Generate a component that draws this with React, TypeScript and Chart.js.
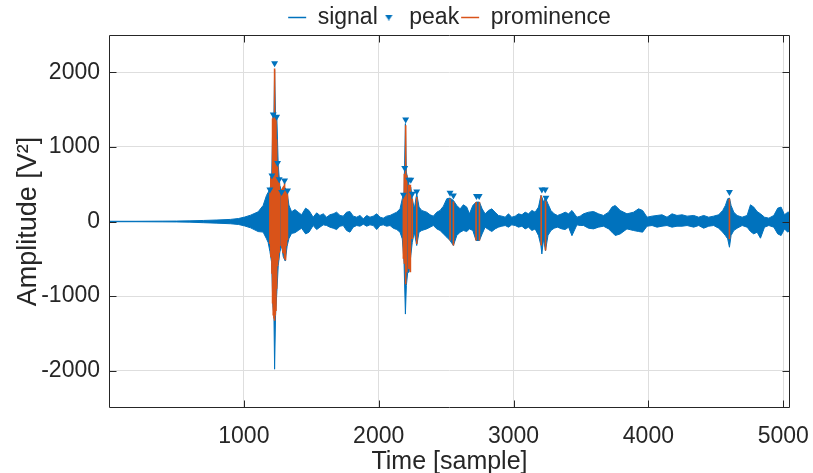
import React, { useEffect, useRef } from "react";
import { Chart, registerables } from "chart.js";

Chart.register(...registerables);

// ---------- data ----------
// signal envelope: sample index, upper and lower extent of the dense waveform
const sigX = [
  0, 200, 400, 500, 600, 700, 800, 900, 960, 1007, 1050, 1106, 1143, 1168, 1180, 1193, 1206, 1215, 1223, 1228,
  1235, 1245, 1255, 1267, 1280, 1292, 1307, 1321, 1334, 1354, 1379, 1403, 1428, 1458, 1483, 1514, 1540, 1564, 1589, 1614,
  1638, 1663, 1688, 1713, 1737, 1762, 1787, 1811, 1837, 1861, 1886, 1911, 1935, 1960, 1985, 2010, 2034, 2059, 2084, 2108,
  2134, 2158, 2175, 2188, 2198, 2205, 2215, 2225, 2238, 2249, 2264, 2282, 2299, 2319, 2356, 2381, 2405, 2431, 2455, 2480,
  2505, 2529, 2554, 2579, 2604, 2628, 2653, 2673, 2698, 2722, 2747, 2767, 2789, 2814, 2839, 2863, 2888, 2913, 2938, 2962,
  2987, 3012, 3037, 3062, 3086, 3111, 3136, 3160, 3185, 3203, 3210, 3222, 3237, 3255, 3277, 3301, 3326, 3358, 3383, 3408,
  3433, 3470, 3494, 3519, 3556, 3593, 3630, 3667, 3705, 3730, 3754, 3791, 3841, 3890, 3927, 3957, 3990, 4027, 4064, 4101,
  4138, 4175, 4212, 4250, 4287, 4336, 4373, 4410, 4447, 4484, 4521, 4551, 4571, 4588, 4601, 4613, 4633, 4658, 4695, 4732,
  4757, 4781, 4806, 4831, 4861, 4893, 4930, 4959, 4984, 5009, 5033, 5050,
];
const sigHi = [
  3, 3, 5, 6, 9, 14, 20, 28, 40, 60, 85, 130, 215, 350, 390, 430, 560, 1380, 1440, 2030,
  1420, 1380, 750, 485, 395, 430, 450, 395, 220, 130, 160, 125, 90, 179, 148, 58, 116, 81, 103, 58,
  90, 103, 125, 81, 72, 125, 134, 72, 58, 81, 36, 81, 58, 72, 103, 58, 45, 72, 81, 103,
  125, 170, 305, 394, 1313, 663, 573, 493, 461, 305, 170, 372, 193, 148, 125, 90, 72, 125, 148, 206,
  305, 314, 282, 215, 170, 224, 193, 103, 215, 260, 260, 170, 103, 148, 170, 125, 81, 72, 58, 103,
  58, 72, 103, 90, 125, 103, 148, 125, 193, 350, 327, 260, 314, 237, 148, 103, 81, 103, 125, 103,
  148, 58, 72, 103, 125, 134, 103, 81, 125, 193, 215, 148, 103, 125, 170, 148, 58, 72, 81, 90,
  58, 103, 81, 90, 72, 81, 58, 81, 58, 72, 90, 148, 215, 305, 314, 215, 125, 81, 58, 81,
  224, 193, 134, 103, 58, 45, 81, 179, 193, 90, 125, 125,
];
const sigLo = [
  -3, -3, -5, -6, -9, -16, -22, -30, -40, -60, -85, -135, -142, -232, -280, -400, -550, -1130, -1260, -1980,
  -1260, -940, -590, -410, -320, -470, -530, -330, -230, -160, -150, -121, -90, -166, -143, -54, -108, -76, -45, -54,
  -76, -90, -108, -63, -54, -121, -143, -76, -54, -63, -36, -63, -45, -54, -108, -54, -45, -63, -54, -90,
  -108, -143, -233, -547, -1241, -860, -680, -680, -457, -278, -143, -322, -143, -121, -99, -76, -54, -99, -121, -166,
  -211, -255, -322, -188, -143, -121, -134, -99, -121, -255, -255, -166, -76, -108, -134, -99, -76, -63, -54, -76,
  -45, -54, -76, -63, -99, -76, -121, -99, -188, -322, -435, -233, -390, -188, -121, -90, -76, -99, -108, -76,
  -190, -45, -54, -54, -90, -99, -76, -63, -99, -143, -188, -166, -99, -121, -134, -143, -63, -54, -76, -63,
  -54, -76, -63, -63, -54, -76, -54, -90, -63, -54, -90, -143, -188, -233, -345, -188, -121, -90, -54, -76,
  -134, -166, -143, -224, -76, -54, -76, -166, -188, -99, -143, -120,
];

// prominence lines: sample index, top and bottom of each vertical line
const promX = [
  1193, 1200, 1208, 1213, 1218, 1223, 1228, 1233, 1238, 1243, 1250, 1256, 1262, 1276, 1282, 1289, 1295, 1302, 1309, 1316, 1323,
  2183, 2190, 2200, 2208, 2223, 2235, 2249, 2282, 2529, 2554, 2722, 2747, 3205, 3237, 4601,
];
const promTop = [
  430, 600, 610, 1380, 1420, 1400, 2050, 1380, 1400, 1100, 785, 560, 520, 380, 440, 460, 480, 520, 420, 400, 380,
  305, 641, 1290, 620, 493, 493, 305, 328, 305, 269, 260, 260, 350, 305, 305,
];
const promBottom = [
  -300, -480, -700, -1100, -1260, -1300, -1330, -1260, -1200, -900, -600, -520, -420, -330, -360, -420, -430, -500, -520, -330, -250,
  -500, -568, -840, -680, -636, -680, -233, -300, -255, -322, -255, -255, -322, -390, -233,
];

// peak markers
const peakX = [
  1193, 1208, 1218, 1228, 1243, 1250, 1262, 1280, 1302, 1324,
  2183, 2193, 2200, 2223, 2238, 2249, 2282, 2529, 2554, 2725, 2745, 3210, 3235, 3240, 4601,
];
const peakY = [
  430, 618, 1434, 2120, 1403, 785, 565, 395, 551, 417,
  359, 718, 1367, 560, 560, 372, 403, 386, 350, 341, 341, 430, 430, 318, 395,
];

const xTicks = [1000, 2000, 3000, 4000, 5000];
const yTicks = [-2000, -1000, 0, 1000, 2000];

// ---------- styles ----------
const BLUE = "#0072BD";
const ORANGE = "#D95319";
const AXIS = "#262626";
const GRID = "#dedede";
const FONT = "'Liberation Sans', Arial, Helvetica, sans-serif";

export default function App() {
  const ref = useRef<HTMLCanvasElement>(null);

  useEffect(() => {
    const canvas = ref.current;
    if (!canvas) return;

    // small downward triangle used as the legend icon for "peak"
    const tri = document.createElement("canvas");
    tri.width = 8;
    tri.height = 6;
    const tctx = tri.getContext("2d")!;
    tctx.fillStyle = BLUE;
    tctx.beginPath();
    tctx.moveTo(0, 0);
    tctx.lineTo(8, 0);
    tctx.lineTo(4, 6);
    tctx.closePath();
    tctx.fill();

    const hiData = sigX.map((x, i) => ({ x, y: sigHi[i] }));
    const loData = sigX.map((x, i) => ({ x, y: sigLo[i] }));
    const promData: { x: number; y: number | null }[] = [];
    promX.forEach((x, i) => {
      promData.push({ x, y: promTop[i] });
      promData.push({ x, y: promBottom[i] });
      promData.push({ x, y: null });
    });
    const peakData = peakX.map((x, i) => ({ x, y: peakY[i] }));

    const boxPlugin = {
      id: "matlabBox",
      afterLayout(chart: any) {
        // nudge legend row down a little (it sits above the plot box)
        if (chart.legend) {
          chart.legend.top += 4;
          chart.legend.bottom += 4;
        }
      },
      afterDatasetsDraw(chart: any) {
        const { ctx, chartArea: a, scales } = chart;
        const L = Math.round(a.left) + 0.5;
        const R = Math.round(a.right) - 0.5;
        const T = Math.round(a.top) + 0.5;
        const B = Math.round(a.bottom) - 0.5;
        ctx.save();
        ctx.strokeStyle = AXIS;
        ctx.lineWidth = 1;
        ctx.beginPath();
        ctx.rect(L, T, R - L, B - T);
        const tl = 7;
        for (const v of xTicks) {
          const px = Math.round(scales.x.getPixelForValue(v)) + 0.5;
          ctx.moveTo(px, B);
          ctx.lineTo(px, B - tl);
          ctx.moveTo(px, T);
          ctx.lineTo(px, T + tl);
        }
        for (const v of yTicks) {
          const py = Math.round(scales.y.getPixelForValue(v)) + 0.5;
          ctx.moveTo(L, py);
          ctx.lineTo(L + tl, py);
          ctx.moveTo(R, py);
          ctx.lineTo(R - tl, py);
        }
        ctx.stroke();
        ctx.restore();
      },
    };

    const chart = new Chart(canvas, {
      type: "line",
      data: {
        datasets: [
          {
            label: "signal",
            data: hiData,
            borderColor: BLUE,
            backgroundColor: BLUE,
            borderWidth: 1,
            pointRadius: 0,
            pointStyle: "line",
            pointBorderWidth: 1.5,
            tension: 0,
            fill: "+1",
            order: 2,
          },
          {
            label: "",
            data: loData,
            borderColor: BLUE,
            backgroundColor: BLUE,
            borderWidth: 1,
            pointRadius: 0,
            tension: 0,
            fill: false,
            order: 3,
          },
          {
            label: "peak",
            data: peakData,
            showLine: false,
            borderColor: BLUE,
            backgroundColor: BLUE,
            pointStyle: "triangle",
            pointRotation: 180,
            pointRadius: 4,
            pointBorderWidth: 0,
            order: 0,
          },
          {
            label: "prominence",
            data: promData,
            borderColor: ORANGE,
            backgroundColor: ORANGE,
            borderWidth: 1.6,
            pointRadius: 0,
            pointStyle: "line",
            pointBorderWidth: 1.5,
            spanGaps: false,
            tension: 0,
            fill: false,
            order: 1,
          },
        ] as any,
      },
      options: {
        animation: false,
        responsive: false,
        devicePixelRatio: 1,
        events: [],
        layout: { padding: { left: 0, right: 23, top: 0, bottom: 0 } },
        plugins: {
          tooltip: { enabled: false },
          legend: {
            display: true,
            position: "top",
            align: "center",
            fullSize: false,
            labels: {
              usePointStyle: true,
              pointStyleWidth: 18,
              boxHeight: 8,
              padding: 2,
              color: AXIS,
              font: { family: FONT, size: 23 },
              sort: (a: any, b: any) => a.datasetIndex - b.datasetIndex,
              filter: (item: any) => item.text !== "",
              generateLabels: (ch: any) => {
                const items = Chart.defaults.plugins.legend.labels.generateLabels(ch);
                return items.map((it: any) => {
                  if (it.text === "peak") {
                    return { ...it, pointStyle: tri, rotation: 0 };
                  }
                  return it;
                });
              },
            },
          },
        },
        scales: {
          x: {
            type: "linear",
            min: 0,
            max: 5050,
            afterBuildTicks: (s: any) => {
              s.ticks = xTicks.map((v) => ({ value: v }));
            },
            afterFit: (s: any) => {
              s.height = 65;
              s.paddingLeft = 0;
              s.paddingRight = 0;
            },
            grid: { color: GRID, drawTicks: false, lineWidth: 1 },
            border: { display: false },
            ticks: {
              color: AXIS,
              font: { family: FONT, size: 23 },
              padding: 15,
              maxRotation: 0,
              autoSkip: false,
              callback: (v: any) => String(v),
            },
            title: {
              display: true,
              text: "Time [sample]",
              color: AXIS,
              font: { family: FONT, size: 25 },
              padding: { top: 0, bottom: -4 },
            },
          },
          y: {
            type: "linear",
            min: -2500,
            max: 2500,
            afterBuildTicks: (s: any) => {
              s.ticks = yTicks.map((v) => ({ value: v }));
            },
            afterFit: (s: any) => {
              s.width = 109;
            },
            grid: { color: GRID, drawTicks: false, lineWidth: 1 },
            border: { display: false },
            ticks: {
              color: AXIS,
              font: { family: FONT, size: 23 },
              padding: 9,
              autoSkip: false,
              callback: (v: any) => String(v),
            },
            title: {
              display: true,
              text: "Amplitude [V²]",
              color: AXIS,
              font: { family: FONT, size: 27 },
              padding: { top: 12, bottom: 0 },
            },
          },
        },
      } as any,
      plugins: [boxPlugin],
    });

    return () => chart.destroy();
  }, []);

  return (
    <div style={{ position: "absolute", left: 0, top: 0, width: 813, height: 473, background: "#fff" }}>
      <canvas ref={ref} width={813} height={473} style={{ display: "block" }} />
    </div>
  );
}
